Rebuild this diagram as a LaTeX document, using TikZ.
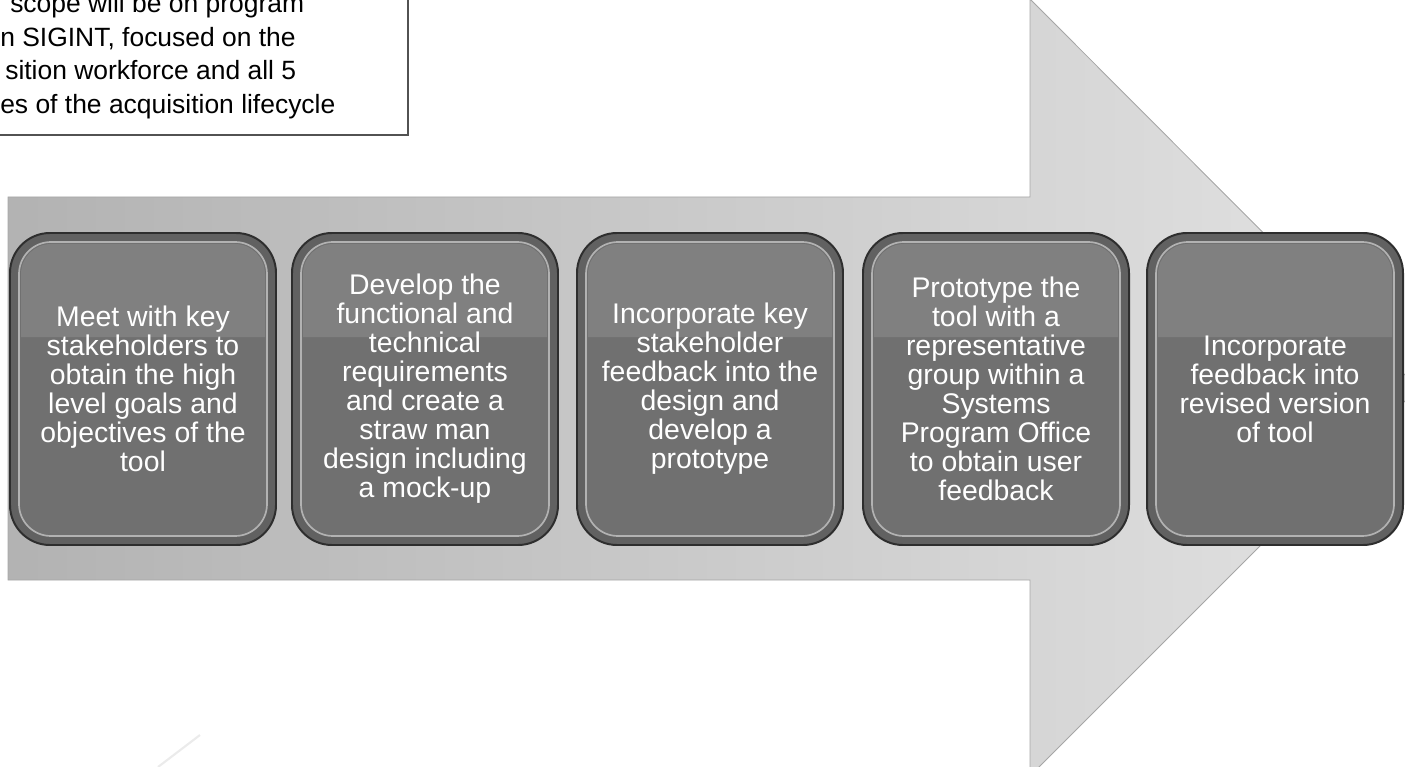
\documentclass[tikz,border=0pt]{standalone}
\usepackage{fontspec}
\setmainfont{Liberation Sans}
\usetikzlibrary{calc}
\tikzset{
	steptext/.style={align=center, text=white, inner sep=0pt, minimum width=6.65cm, minimum height=7.8cm, font=\fontsize{20.2}{20.6}\selectfont},
	scopetext/.style={anchor=base west, inner sep=0pt, font=\fontsize{18.8}{23.4}\selectfont},
}
\def\stepshell(#1,#2)(#3){%
	\fill[black!62, draw=black!82, line width=1.4pt, rounded corners=1cm] ({#1-#3/2},{#2-156}) rectangle ({#1+#3/2},{#2+156});
	\fill[black!56, draw=black!30, line width=1.2pt, rounded corners=0.8cm] ({#1-#3/2+9},{#2-147}) rectangle ({#1+#3/2-9},{#2+147});
	\fill[black!50] ({#1-#3/2+11},{#2-52}) [rounded corners=0.75cm] -- ({#1-#3/2+11},{#2-145}) -- ({#1+#3/2-11},{#2-145}) [sharp corners] -- ({#1+#3/2-11},{#2-52}) -- cycle;
}

\begin{document}
\begin{tikzpicture}[x=0.025cm, y=-0.025cm]
			%%%%% START %%%%%
			\useasboundingbox (0, 0) rectangle (1405, 767);
			\clip (0, 0) rectangle (1405, 767);
			
			\shade[left color=black!30, right color=black!11, draw=black!35, line width=0.6pt] (8, 197) -- (1030, 197) -- (1030, -1) -- (1418, 388) -- (1030, 776) -- (1030, 580) -- (8, 580) -- cycle;
			
			\draw[fill=white, draw=black!68, line width=1.8pt] (-20, -20) rectangle (408, 135);
			\node[scopetext] (scopeA) at (10, 13) {scope will be on program};
			\node[scopetext] (scopeB) at (0, 47) {n SIGINT, focused on the};
			\node[scopetext] (scopeC) at (5, 80) {sition workforce and all 5};
			\node[scopetext] (scopeD) at (0, 114) {es of the acquisition lifecycle};
			
			\stepshell(143,389)(266)
			\stepshell(425,389)(266)
			\stepshell(710,389)(266)
			\stepshell(996,389)(266)
			\stepshell(1275,389)(256)
			
			\node[steptext] (goals) at (143, 389) {Meet with key\\stakeholders to\\obtain the high\\level goals and\\objectives of the\\tool};
			\node[steptext] (design) at (425, 389) {Develop the\\functional and\\technical\\requirements\\and create a\\straw man\\design including\\a mock-up};
			\node[steptext] (feedback) at (710, 389) {Incorporate key\\stakeholder\\feedback into the\\design and\\develop a\\prototype};
			\node[steptext] (pilot) at (996, 389) {Prototype the\\tool with a\\representative\\group within a\\Systems\\Program Office\\to obtain user\\feedback};
			\node[steptext, minimum width=6.4cm] (revise) at (1275, 389) {Incorporate\\feedback into\\revised version\\of tool};
			
			\draw[black!8, line width=1.5pt] (158, 767) -- (200, 735);
			
			%%%%% END %%%%%
\end{tikzpicture}
\end{document}
